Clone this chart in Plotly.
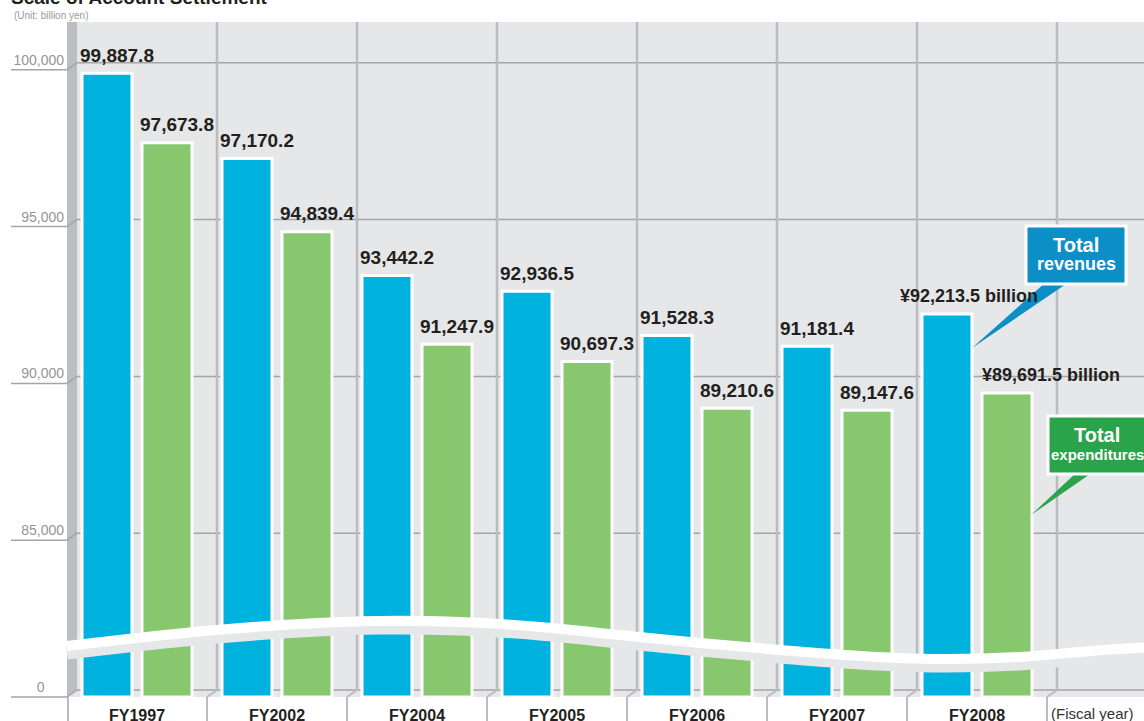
import plotly.graph_objects as go

# ---------------- data ----------------
categories = ["FY1997", "FY2002", "FY2004", "FY2005", "FY2006", "FY2007", "FY2008"]
revenues = [99887.8, 97170.2, 93442.2, 92936.5, 91528.3, 91181.4, 92213.5]
expenditures = [97673.8, 94839.4, 91247.9, 90697.3, 89210.6, 89147.6, 89691.5]
tick_values = [0, 85000, 90000, 95000, 100000]
tick_labels = ["0", "85,000", "90,000", "95,000", "100,000"]
series_names = ["Total revenues", "Total expenditures"]

# broken axis: the value 0 is drawn at this axis position
BREAK_BASE = 80000


def axis_pos(v):
    return BREAK_BASE if v == 0 else v


# ---------------- geometry / style ----------------
W, H = 1144, 721
ML, MR, MT, MB = 67, 0, 22, 24
PW, PH = W - ML - MR, H - MT - MB
CAT_PX = 140.0
Y_TOP = BREAK_BASE + PH / (156.8 / 5000)
UNIT_PER_PX = (Y_TOP - BREAK_BASE) / PH
DX = 10 / CAT_PX          # depth shift (x, data units)
DY_PX = 7                 # depth shift (pixels)
DY = DY_PX * UNIT_PER_PX  # depth shift (y, data units)

BLUE = "#00b2de"
GREEN = "#87c86f"
BG = "#e6e7e8"
WALL = "#bcbdc0"
GRID = "#a3a5a8"
VGRID = "#bbbcbf"
DARK = "#231f20"
FONT = "Liberation Sans, Arial, sans-serif"


def px_x(x):
    return (x - ML) / PW


def px_y(y):
    return (MT + PH - y) / PH


fig = go.Figure()
fig.add_trace(go.Bar(
    x=categories, y=[v - BREAK_BASE for v in revenues], base=BREAK_BASE,
    name=series_names[0], marker=dict(color=BLUE, line=dict(color="white", width=3)),
    hoverinfo="skip"))
fig.add_trace(go.Bar(
    x=categories, y=[v - BREAK_BASE for v in expenditures], base=BREAK_BASE,
    name=series_names[1], marker=dict(color=GREEN, line=dict(color="white", width=3)),
    hoverinfo="skip"))

shapes = []
# left side wall
shapes.append(dict(type="path", xref="paper", yref="paper", layer="below",
                   path=f"M {px_x(67)},{px_y(22)} L {px_x(77)},{px_y(22)} L {px_x(77)},{px_y(690)} L {px_x(67)},{px_y(697)} Z",
                   fillcolor=WALL, line=dict(width=0)))

# horizontal gridlines (back wall) with front tick underline + depth diagonal
for v in tick_values:
    if v == 0:
        shapes.append(dict(type="line", xref="paper", yref="paper", layer="below",
                           x0=px_x(11), x1=0, y0=0, y1=0, line=dict(color=GRID, width=1.5)))
        shapes.append(dict(type="line", xref="paper", yref="paper", layer="below",
                           x0=0, x1=px_x(77), y0=0, y1=DY_PX / PH, line=dict(color=GRID, width=1.5)))
        shapes.append(dict(type="line", xref="paper", yref="paper", layer="below",
                           x0=px_x(77), x1=1, y0=DY_PX / PH, y1=DY_PX / PH, line=dict(color=GRID, width=1.5)))
    else:
        p = axis_pos(v)
        shapes.append(dict(type="line", xref="paper", yref="y", layer="below",
                           x0=px_x(11), x1=0, y0=p, y1=p, line=dict(color=GRID, width=1.5)))
        shapes.append(dict(type="line", xref="paper", yref="y", layer="below",
                           x0=0, x1=px_x(77), y0=p, y1=p + DY, line=dict(color=GRID, width=1.5)))
        shapes.append(dict(type="line", xref="paper", yref="y", layer="below",
                           x0=px_x(77), x1=1, y0=p + DY, y1=p + DY, line=dict(color=GRID, width=1.5)))

# vertical gridlines (back) + front separators
for i in range(len(categories)):
    xb = i + 0.5
    shapes.append(dict(type="line", xref="x", yref="paper", layer="below",
                       x0=xb + DX, x1=xb + DX, y0=DY_PX / PH, y1=1, line=dict(color=VGRID, width=2.5)))
    shapes.append(dict(type="line", xref="x", yref="paper", layer="below",
                       x0=xb, x1=xb + DX, y0=0, y1=DY_PX / PH, line=dict(color=VGRID, width=2)))
    shapes.append(dict(type="line", xref="x", yref="paper", layer="below",
                       x0=xb, x1=xb, y0=0, y1=-MB / PH, line=dict(color=VGRID, width=2)))
shapes.append(dict(type="line", xref="paper", yref="paper", layer="below",
                   x0=px_x(68), x1=px_x(68), y0=0, y1=-MB / PH, line=dict(color=VGRID, width=2)))

# axis-break band (white wave, with a background-coloured cut below it)
band_pts = [(67, 646), (137, 638), (217, 630), (300, 624), (380, 621), (460, 622),
            (540, 627), (620, 635), (700, 643), (780, 650), (860, 656), (940, 659),
            (1020, 657), (1090, 651), (1150, 647)]


def catmull(pts, dy=0.0):
    pts = [(x, y + dy) for x, y in pts]
    d = f"M {px_x(pts[0][0])},{px_y(pts[0][1])}"
    for k in range(len(pts) - 1):
        p0 = pts[k - 1] if k > 0 else pts[k]
        p1 = pts[k]
        p2 = pts[k + 1]
        p3 = pts[k + 2] if k + 2 < len(pts) else pts[k + 1]
        c1 = (p1[0] + (p2[0] - p0[0]) / 6, p1[1] + (p2[1] - p0[1]) / 6)
        c2 = (p2[0] - (p3[0] - p1[0]) / 6, p2[1] - (p3[1] - p1[1]) / 6)
        d += (f" C {px_x(c1[0])},{px_y(c1[1])} {px_x(c2[0])},{px_y(c2[1])}"
              f" {px_x(p2[0])},{px_y(p2[1])}")
    return d


shapes.append(dict(type="path", xref="paper", yref="paper", layer="above",
                   path=catmull(band_pts, 7), line=dict(color=BG, width=13)))
shapes.append(dict(type="path", xref="paper", yref="paper", layer="above",
                   path=catmull(band_pts), line=dict(color="white", width=10)))

# callout boxes
BOX_BLUE = "#0c8ec6"
BOX_GREEN = "#2aa44a"
shapes.append(dict(type="path", xref="paper", yref="paper", layer="above",
                   path=f"M {px_x(1046)},{px_y(282)} L {px_x(1069)},{px_y(282)} L {px_x(972)},{px_y(348)} Z",
                   fillcolor=BOX_BLUE, line=dict(width=0)))
shapes.append(dict(type="rect", xref="paper", yref="paper", layer="above",
                   x0=px_x(1026), x1=px_x(1126), y0=px_y(226), y1=px_y(284),
                   fillcolor=BOX_BLUE, line=dict(color="white", width=3)))
shapes.append(dict(type="path", xref="paper", yref="paper", layer="above",
                   path=f"M {px_x(1077)},{px_y(472)} L {px_x(1093)},{px_y(472)} L {px_x(1031)},{px_y(515)} Z",
                   fillcolor=BOX_GREEN, line=dict(width=0)))
shapes.append(dict(type="rect", xref="paper", yref="paper", layer="above",
                   x0=px_x(1048), x1=px_x(1150), y0=px_y(416), y1=px_y(474),
                   fillcolor=BOX_GREEN, line=dict(color="white", width=3)))

annotations = []
last = len(categories) - 1
for i, cat in enumerate(categories):
    for v, off, extra in ((revenues[i], -30, 22 if i == last else 10),
                          (expenditures[i], 30, 44 if i == last else 10)):
        txt = f"¥{v:,.1f} billion" if i == last else f"{v:,.1f}"
        annotations.append(dict(x=cat, y=axis_pos(v), xref="x", yref="y", text=txt,
                                showarrow=False, xanchor="center", yanchor="middle",
                                xshift=off + extra, yshift=18,
                                font=dict(family=FONT, size=18 if i == last else 19,
                                          color=DARK, weight="bold")))

# callout text
CALL = dict(family=FONT, color="white", weight="bold")
P = dict(xref="paper", yref="paper", showarrow=False, xanchor="center", yanchor="middle")
annotations += [
    dict(x=px_x(1076), y=px_y(245), text="Total", font=dict(size=20, **CALL), **P),
    dict(x=px_x(1076), y=px_y(264), text="revenues", font=dict(size=18, **CALL), **P),
    dict(x=px_x(1097), y=px_y(435), text="Total", font=dict(size=20, **CALL), **P),
    dict(x=px_x(1097), y=px_y(454), text="expenditures", font=dict(size=15, **CALL), **P),
    # titles
    dict(x=px_x(9), y=px_y(-3), xref="paper", yref="paper", xanchor="left", yanchor="middle",
         text="Scale of Account Settlement", showarrow=False,
         font=dict(family=FONT, size=19, color=DARK, weight="bold")),
    dict(x=px_x(12), y=px_y(16), xref="paper", yref="paper", xanchor="left", yanchor="middle",
         text="(Unit: billion yen)", showarrow=False,
         font=dict(family=FONT, size=10, color="#9a9b9d")),
    dict(x=px_x(1049), y=px_y(713), xref="paper", yref="paper", xanchor="left", yanchor="middle",
         text="(Fiscal year)", showarrow=False,
         font=dict(family=FONT, size=15, color="#333333")),
]

fig.update_layout(
    width=W, height=H,
    margin=dict(l=ML, r=MR, t=MT, b=MB, pad=0, autoexpand=False),
    paper_bgcolor="white", plot_bgcolor=BG,
    barmode="group", bargap=0.143, bargroupgap=0.1667,
    showlegend=False,
    shapes=shapes, annotations=annotations,
    xaxis=dict(type="category", range=[-0.5, -0.5 + PW / CAT_PX], showgrid=False,
               zeroline=False, showline=False, ticks="", automargin=False,
               tickfont=dict(family=FONT, size=16, color=DARK, weight="bold"),
               ticklabelstandoff=7, fixedrange=True),
    yaxis=dict(range=[BREAK_BASE, Y_TOP], showgrid=False, zeroline=False, showline=False,
               ticks="", tickmode="array", tickvals=[axis_pos(v) for v in tick_values],
               ticktext=[t + ("\u00a0" * 5 if t == "0" else "") for t in tick_labels],
               tickfont=dict(family=FONT, size=14, color="#939598"), automargin=False,
               ticklabelshift=-10, ticklabelstandoff=2, fixedrange=True),
)

fig.write_html("out.html", config={"displayModeBar": False},
               post_script="document.body.style.margin='0px';document.body.style.overflow='hidden';")
